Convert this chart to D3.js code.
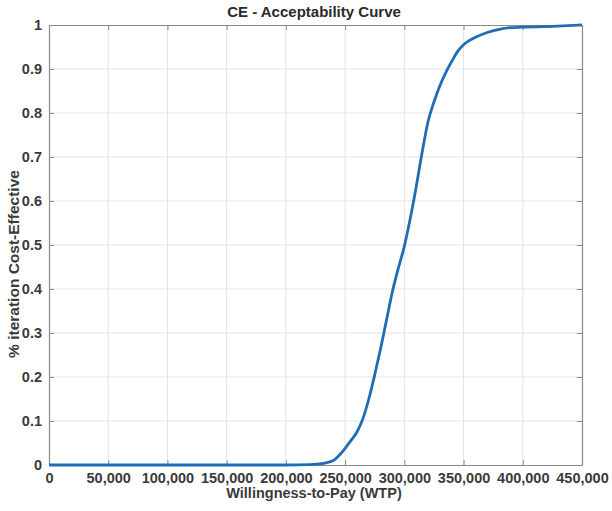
<!DOCTYPE html>
<html>
<head>
<meta charset="utf-8">
<script src="https://cdn.jsdelivr.net/npm/d3@7"></script>
<style>
  body { margin: 0; background: #fff; }
  text { font-family: "Liberation Sans", Arial, sans-serif; font-weight: bold; }
</style>
</head>
<body>
<svg id="chart" width="612" height="511"></svg>
<script>
// willingness-to-pay steps and share of iterations that come out cost-effective
const wtp = [0, 50000, 100000, 150000, 200000, 220000, 230000, 240000, 245000, 250000,
  255000, 260000, 265000, 270000, 275000, 280000, 285000, 290000, 295000, 300000,
  305000, 310000, 315000, 320000, 325000, 330000, 335000, 340000, 345000, 350000,
  355000, 360000, 370000, 380000, 390000, 400000, 425000, 450000];
const pctCE = [0, 0, 0, 0, 0, 0.001, 0.003, 0.01, 0.022, 0.038,
  0.056, 0.075, 0.105, 0.15, 0.205, 0.265, 0.33, 0.395, 0.448, 0.497,
  0.56, 0.632, 0.71, 0.78, 0.825, 0.862, 0.892, 0.917, 0.94, 0.955,
  0.965, 0.972, 0.983, 0.99, 0.994, 0.995, 0.997, 1.0];

const xTicks = d3.range(0, 450001, 50000);
const yTicks = d3.range(0, 11).map(d => d / 10);

const svg = d3.select("#chart");
const m = { left: 49, right: 30, top: 25, bottom: 46 };
const W = 612, H = 511;

const x = d3.scaleLinear().domain([0, 450000]).range([m.left, W - m.right]);
const y = d3.scaleLinear().domain([0, 1]).range([H - m.bottom, m.top]);

const g = svg.append("g");

// grid
g.selectAll(".gx").data(xTicks.slice(1, -1)).join("line")
  .attr("x1", d => x(d)).attr("x2", d => x(d))
  .attr("y1", y(0)).attr("y2", y(1))
  .attr("stroke", "#e3e3e3").attr("stroke-width", 1);
g.selectAll(".gy").data(yTicks.slice(1, -1)).join("line")
  .attr("x1", x(0)).attr("x2", x(450000))
  .attr("y1", d => y(d)).attr("y2", d => y(d))
  .attr("stroke", "#e3e3e3").attr("stroke-width", 1);

// axes with inward ticks, MATLAB style
const fmt = d3.format(",");
const xAxis = g.append("g").attr("transform", `translate(0,${y(0)})`)
  .call(d3.axisBottom(x).tickValues(xTicks).tickFormat(fmt).tickSizeInner(-5).tickSizeOuter(0).tickPadding(8));
const xTop = g.append("g").attr("transform", `translate(0,${y(1)})`)
  .call(d3.axisTop(x).tickValues(xTicks).tickFormat("").tickSizeInner(-5).tickSizeOuter(0));
const yAxis = g.append("g").attr("transform", `translate(${x(0)},0)`)
  .call(d3.axisLeft(y).tickValues(yTicks).tickFormat(d3.format("")).tickSizeInner(-5).tickSizeOuter(0).tickPadding(7));
const yRight = g.append("g").attr("transform", `translate(${x(450000)},0)`)
  .call(d3.axisRight(y).tickValues(yTicks).tickFormat("").tickSizeInner(-5).tickSizeOuter(0));

[xAxis, xTop, yAxis, yRight].forEach(a => {
  a.select(".domain").attr("stroke", "#8a8a8a").attr("stroke-width", 1.2);
  a.selectAll(".tick line").attr("stroke", "#8a8a8a");
  a.selectAll("text").attr("fill", "#3a3a3a").attr("font-size", 14.5)
    .style("font-family", "'Liberation Sans', Arial, sans-serif").style("font-weight", "bold");
});

// curve
const line = d3.line().x((d, i) => x(wtp[i])).y(d => y(d)).curve(d3.curveMonotoneX);
g.append("path").datum(pctCE)
  .attr("d", line)
  .attr("fill", "none")
  .attr("stroke", "#1f6db5")
  .attr("stroke-width", 2.8)
  .attr("stroke-linejoin", "round");

// labels
svg.append("text").attr("x", 314).attr("y", 17).attr("text-anchor", "middle")
  .attr("font-size", 15).attr("fill", "#2a2a2a").text("CE - Acceptability Curve");
svg.append("text").attr("x", 314).attr("y", 498).attr("text-anchor", "middle")
  .attr("font-size", 14.5).attr("fill", "#3a3a3a").text("Willingness-to-Pay (WTP)");
svg.append("text").attr("transform", `translate(19,${(y(0) + y(1)) / 2 + 19}) rotate(-90)`)
  .attr("text-anchor", "middle").attr("font-size", 15.5).attr("fill", "#3a3a3a")
  .text("% iteration Cost-Effective");
</script>
</body>
</html>
